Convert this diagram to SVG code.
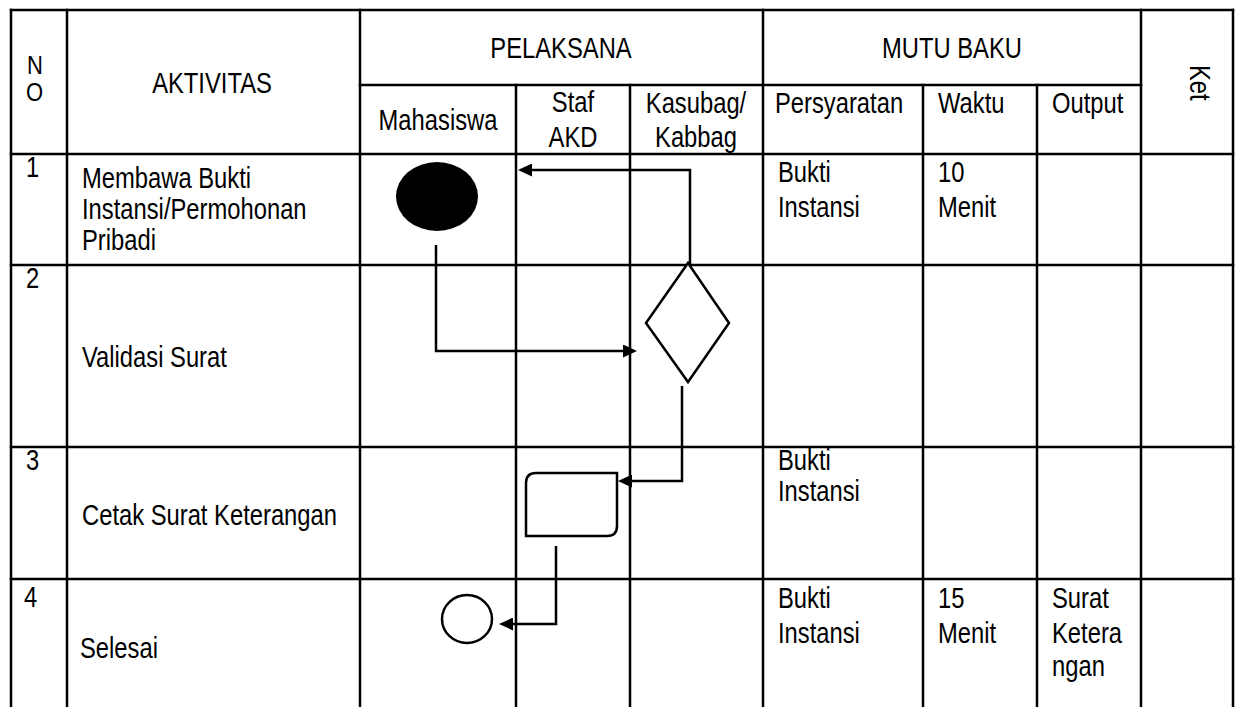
<svg xmlns="http://www.w3.org/2000/svg" width="1237" height="707" viewBox="0 0 1237 707">
<style>
  .g { stroke:#000; stroke-width:2.5; fill:none; stroke-linecap:square; }
  .t { font-family:"Liberation Sans", Arial, sans-serif; font-size:29px; fill:#000; }
  .no { font-size:25px; }
  .m { text-anchor:middle; }
  .sh { stroke:#000; stroke-width:2.5; fill:#fff; }
  .c { stroke:#000; stroke-width:2.5; fill:none; marker-end:url(#ah); }
</style>
<defs>
  <marker id="ah" markerUnits="userSpaceOnUse" markerWidth="14" markerHeight="13" refX="6" refY="6.5" orient="auto">
    <path d="M0,0 L14,6.5 L0,13 z" fill="#000"/>
  </marker>
</defs>
<rect width="1237" height="707" fill="#fff"/>

<g id="grid" class="g">
  <line x1="11" y1="10" x2="1233" y2="10"/>
  <line x1="360" y1="85" x2="1141" y2="85"/>
  <line x1="11" y1="154" x2="1233" y2="154"/>
  <line x1="11" y1="265" x2="1233" y2="265"/>
  <line x1="11" y1="447" x2="1233" y2="447"/>
  <line x1="11" y1="579" x2="1233" y2="579"/>
  <line x1="11" y1="10" x2="11" y2="710"/>
  <line x1="67" y1="10" x2="67" y2="710"/>
  <line x1="360" y1="10" x2="360" y2="710"/>
  <line x1="516" y1="85" x2="516" y2="710"/>
  <line x1="630" y1="85" x2="630" y2="710"/>
  <line x1="763" y1="10" x2="763" y2="710"/>
  <line x1="923" y1="85" x2="923" y2="710"/>
  <line x1="1037" y1="85" x2="1037" y2="710"/>
  <line x1="1141" y1="10" x2="1141" y2="710"/>
  <line x1="1233" y1="10" x2="1233" y2="710"/>
</g>

<g id="header" class="t">
  <text class="no" transform="translate(27,74) scale(0.88,1)">N</text>
  <text class="no" transform="translate(26,101) scale(0.88,1)">O</text>
  <text class="m" transform="translate(212,93) scale(0.82,1)">AKTIVITAS</text>
  <text class="m" transform="translate(561,58) scale(0.82,1)">PELAKSANA</text>
  <text class="m" transform="translate(952,58) scale(0.82,1)">MUTU BAKU</text>
  <text transform="translate(1190,65) rotate(90) scale(0.82,1)">Ket</text>
  <text class="m" transform="translate(438,130) scale(0.82,1)">Mahasiswa</text>
  <text class="m" transform="translate(573,112) scale(0.82,1)">Staf</text>
  <text class="m" transform="translate(573,147) scale(0.82,1)">AKD</text>
  <text class="m" transform="translate(696,113) scale(0.82,1)">Kasubag/</text>
  <text class="m" transform="translate(696,147) scale(0.82,1)">Kabbag</text>
  <text transform="translate(775,113) scale(0.82,1)">Persyaratan</text>
  <text transform="translate(938,113) scale(0.82,1)">Waktu</text>
  <text transform="translate(1052,113) scale(0.82,1)">Output</text>
</g>

<g id="rows" class="t">
  <text transform="translate(26,177) scale(0.82,1)">1</text>
  <text transform="translate(82,188) scale(0.82,1)">Membawa Bukti</text>
  <text transform="translate(82,219) scale(0.82,1)">Instansi/Permohonan</text>
  <text transform="translate(82,250) scale(0.82,1)">Pribadi</text>
  <text transform="translate(778,182) scale(0.82,1)">Bukti</text>
  <text transform="translate(778,217) scale(0.82,1)">Instansi</text>
  <text transform="translate(938,182) scale(0.82,1)">10</text>
  <text transform="translate(938,217) scale(0.82,1)">Menit</text>

  <text transform="translate(26,288) scale(0.82,1)">2</text>
  <text transform="translate(82,367) scale(0.82,1)">Validasi Surat</text>

  <text transform="translate(26,470) scale(0.82,1)">3</text>
  <text transform="translate(82,525) scale(0.82,1)">Cetak Surat Keterangan</text>
  <text transform="translate(778,470) scale(0.82,1)">Bukti</text>
  <text transform="translate(778,501) scale(0.82,1)">Instansi</text>

  <text transform="translate(24,607) scale(0.82,1)">4</text>
  <text transform="translate(80,658) scale(0.82,1)">Selesai</text>
  <text transform="translate(778,608) scale(0.82,1)">Bukti</text>
  <text transform="translate(778,643) scale(0.82,1)">Instansi</text>
  <text transform="translate(938,608) scale(0.82,1)">15</text>
  <text transform="translate(938,643) scale(0.82,1)">Menit</text>
  <text transform="translate(1052,608) scale(0.82,1)">Surat</text>
  <text transform="translate(1052,643) scale(0.82,1)">Ketera</text>
  <text transform="translate(1052,676) scale(0.82,1)">ngan</text>
</g>

<g id="connectors">
  <path class="c" d="M690,268 L690,170 L526,170"/>
  <path class="c" d="M436,245 L436,351 L629,351"/>
  <path class="c" d="M682,386 L682,481 L626,481"/>
  <path class="c" d="M556,546 L556,624 L507,624"/>
</g>

<g id="start">
  <ellipse cx="437" cy="196.5" rx="41" ry="34.5" fill="#000"/>
</g>
<g id="validasi">
  <polygon class="sh" points="688,263 729,323 688,382 646,323"/>
</g>
<g id="cetak">
  <path class="sh" d="M536,473 L617,473 L617,526 Q617,536 607,536 L526,536 L526,483 Q526,473 536,473 Z"/>
</g>
<g id="selesai">
  <ellipse class="sh" cx="467" cy="619" rx="25" ry="24"/>
</g>
</svg>
